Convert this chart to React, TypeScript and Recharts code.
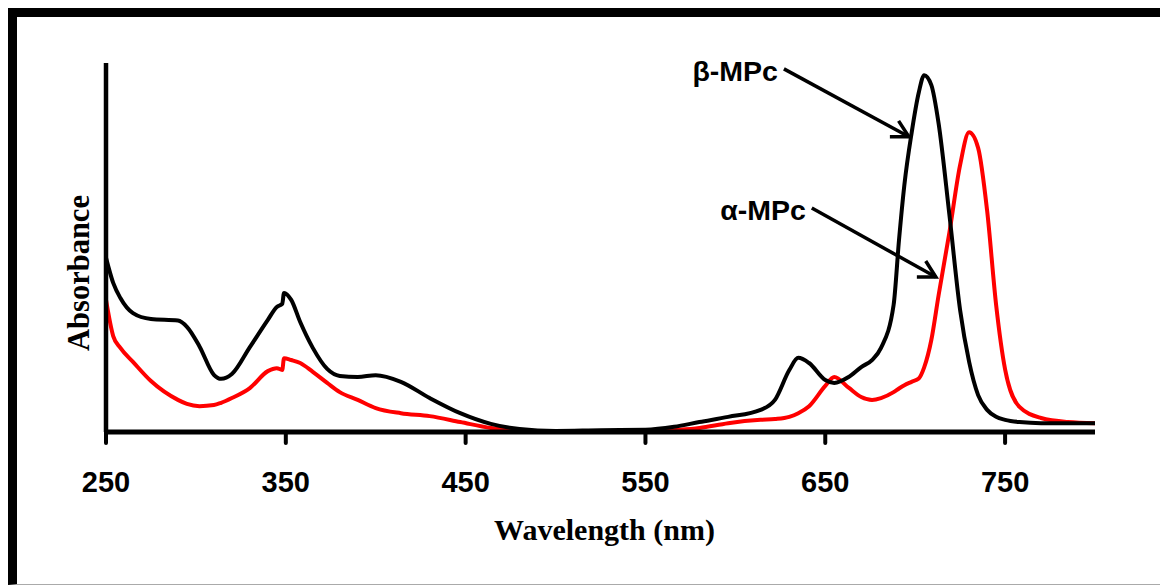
import { LineChart, Line, XAxis, YAxis, ReferenceLine, Label } from "recharts";

// wavelength grid (nm) shared by both spectra
const wavelengths = [
  250, 254, 258, 265, 275, 290, 295, 302, 310, 314, 320, 330, 340, 345, 348, 349,
  353, 358, 365, 373, 380, 390, 400, 414, 430, 447, 464, 480, 500, 525, 550, 566,
  580, 596, 614, 622, 630, 635, 641, 650, 655, 663, 670, 676, 681, 688, 691, 694,
  698, 702, 705, 709, 713, 719, 725, 730, 735, 740, 745, 750, 758, 770, 785, 800,
];

// β-MPc absorbance (black)
const betaMPc = [
  0.472, 0.404, 0.363, 0.322, 0.306, 0.302, 0.285, 0.232, 0.155, 0.144, 0.157, 0.23,
  0.304, 0.339, 0.347, 0.377, 0.358, 0.298, 0.228, 0.171, 0.152, 0.149, 0.154, 0.136,
  0.092, 0.051, 0.022, 0.008, 0.003, 0.005, 0.006, 0.014, 0.027, 0.041, 0.06, 0.087,
  0.168, 0.201, 0.187, 0.141, 0.133, 0.149, 0.176, 0.195, 0.228, 0.344, 0.52, 0.67,
  0.81, 0.92, 0.967, 0.94, 0.837, 0.59, 0.33, 0.19, 0.1, 0.06, 0.041, 0.033, 0.027,
  0.024, 0.024, 0.024,
];

// α-MPc absorbance (red)
const alphaMPc = [
  0.358, 0.26, 0.228, 0.19, 0.138, 0.087, 0.076, 0.07, 0.073, 0.079, 0.092, 0.119,
  0.165, 0.173, 0.168, 0.2, 0.195, 0.187, 0.163, 0.133, 0.108, 0.087, 0.065, 0.051,
  0.043, 0.027, 0.011, 0.003, 0.0, 0.001, 0.0, 0.005, 0.011, 0.024, 0.033, 0.035,
  0.041, 0.051, 0.07, 0.125, 0.149, 0.12, 0.095, 0.087, 0.092, 0.108, 0.118, 0.127,
  0.136, 0.145, 0.175, 0.25, 0.37, 0.54, 0.724, 0.812, 0.77, 0.6, 0.345, 0.17, 0.068,
  0.038, 0.027, 0.024,
];

const xTicks = [250, 350, 450, 550, 650, 750];

// arrow annotations: [label, start wl, start abs, end wl, end abs]
const arrows: [string, number, number, number, number][] = [
  ["β-MPc", 627, 0.984, 696.5, 0.8],
  ["α-MPc", 642.5, 0.607, 711.5, 0.42],
];

const data = wavelengths.map((wl, i) => ({
  wl,
  beta: betaMPc[i],
  alpha: alphaMPc[i],
}));

function ArrowShape(props: any) {
  const { x1, y1, x2, y2, text } = props;
  const ang = Math.atan2(y2 - y1, x2 - x1);
  const len = 19;
  const spread = 0.5;
  const a1 = ang + Math.PI - spread;
  const a2 = ang + Math.PI + spread;
  return (
    <g>
      <line x1={x1} y1={y1} x2={x2} y2={y2} stroke="#000" strokeWidth={3.5} />
      <polyline
        points={`${x2 + len * Math.cos(a1)},${y2 + len * Math.sin(a1)} ${x2},${y2} ${x2 + len * Math.cos(a2)},${y2 + len * Math.sin(a2)}`}
        fill="none"
        stroke="#000"
        strokeWidth={3.5}
      />
      <text
        x={x1 - 6}
        y={y1 + 12}
        textAnchor="end"
        fontFamily="Liberation Sans, Arial, sans-serif"
        fontWeight="bold"
        fontSize={28.5}
        fill="#000"
      >
        {text}
      </text>
    </g>
  );
}

function XTick(props: any) {
  const { x, payload } = props;
  return (
    <text
      x={x}
      y={492}
      textAnchor="middle"
      fontFamily="Liberation Sans, Arial, sans-serif"
      fontWeight="bold"
      fontSize={29}
      fill="#000"
    >
      {payload.value}
    </text>
  );
}

export default function App() {
  return (
    <div style={{ position: "absolute", left: 0, top: 0, width: 1160, height: 585, background: "#fff", overflow: "hidden" }}>
      <div
        style={{
          position: "absolute",
          left: 8,
          top: 8,
          width: 1160,
          height: 577,
          borderTop: "9px solid #000",
          borderLeft: "9px solid #000",
          borderBottom: "1px solid #aaa",
          boxSizing: "border-box",
        }}
      />
      <div style={{ position: "absolute", left: 0, top: 0 }}>
        <LineChart
          width={1160}
          height={585}
          data={data}
          margin={{ top: 63, right: 65, left: 104, bottom: 93 }}
        >
          <XAxis
            dataKey="wl"
            type="number"
            domain={[250, 800]}
            ticks={xTicks}
            allowDataOverflow
            height={60}
            axisLine={{ stroke: "#000", strokeWidth: 5 }}
            tickLine={{ stroke: "#000", strokeWidth: 4, strokeLinecap: "round" }}
            tickSize={11}
            tick={<XTick />}
          >
            <Label
              content={(p: any) => (
                <text
                  x={p.viewBox.x + p.viewBox.width / 2 + 4}
                  y={p.viewBox.y + 108}
                  textAnchor="middle"
                  fontFamily="Liberation Serif, Times New Roman, serif"
                  fontWeight="bold"
                  fontSize={30}
                  fill="#000"
                >
                  Wavelength (nm)
                </text>
              )}
            />
          </XAxis>
          <YAxis
            type="number"
            domain={[0, 1]}
            width={2}
            tick={false}
            tickLine={false}
            axisLine={{ stroke: "#000", strokeWidth: 4.5 }}
          >
            <Label
              content={(p: any) => {
                const cx = p.viewBox.x + p.viewBox.width - 17;
                const cy = 273;
                return (
                  <text
                    x={cx}
                    y={cy}
                    transform={`rotate(-90, ${cx}, ${cy})`}
                    textAnchor="middle"
                    fontFamily="Liberation Serif, Times New Roman, serif"
                    fontWeight="bold"
                    fontSize={30.5}
                    fill="#000"
                  >
                    Absorbance
                  </text>
                );
              }}
            />
          </YAxis>
          <Line
            type="monotone"
            dataKey="alpha"
            stroke="#ff0000"
            strokeWidth={4}
            dot={false}
            isAnimationActive={false}
          />
          <Line
            type="monotone"
            dataKey="beta"
            stroke="#000"
            strokeWidth={4}
            dot={false}
            isAnimationActive={false}
          />
          {arrows.map(([text, xs, ys, xe, ye]) => (
            <ReferenceLine
              key={text}
              segment={[
                { x: xs, y: ys },
                { x: xe, y: ye },
              ]}
              ifOverflow="visible"
              shape={(p: any) => <ArrowShape {...p} text={text} />}
            />
          ))}
        </LineChart>
      </div>
    </div>
  );
}
